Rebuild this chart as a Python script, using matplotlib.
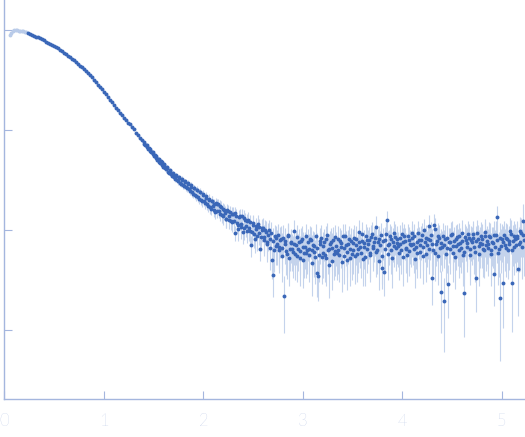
import matplotlib
matplotlib.use("Agg")
import matplotlib.pyplot as plt
import numpy as np
from matplotlib.ticker import FixedLocator, NullLocator

# ---------------- data ----------------
# excluded (light) points at lowest q
q_excluded = [0.055, 0.070, 0.085, 0.100, 0.115, 0.130, 0.145, 0.160, 0.175, 0.190, 0.205, 0.220]
log10_I_excluded = [-0.050, -0.030, -0.008, -0.004, -0.002, -0.004, -0.006, -0.008, -0.011, -0.014, -0.018, -0.022]
err_excluded = [0.030, 0.025, 0.020, 0.018, 0.015, 0.013, 0.012, 0.011, 0.010, 0.010, 0.009, 0.009]

# smooth part of the curve
q_smooth = [0.24, 0.26, 0.28, 0.30, 0.32, 0.34, 0.36, 0.38, 0.40, 0.42, 0.44, 0.46, 0.48, 0.50,
            0.52, 0.54, 0.56, 0.58, 0.60, 0.62, 0.64, 0.66, 0.68, 0.70, 0.72, 0.74, 0.76, 0.78,
            0.80, 0.82, 0.84, 0.86, 0.88, 0.90, 0.92, 0.94, 0.96, 0.98, 1.00, 1.02, 1.04, 1.06,
            1.08, 1.10, 1.12, 1.14, 1.16, 1.18, 1.20, 1.22, 1.24, 1.26, 1.28, 1.30, 1.32, 1.34,
            1.36, 1.38]
log10_I_smooth = [-0.035, -0.043, -0.050, -0.058, -0.066, -0.075, -0.085, -0.095, -0.105, -0.116,
                  -0.126, -0.137, -0.148, -0.160, -0.172, -0.185, -0.198, -0.212, -0.226, -0.241,
                  -0.256, -0.271, -0.287, -0.304, -0.321, -0.339, -0.357, -0.375, -0.394, -0.413,
                  -0.433, -0.454, -0.475, -0.501, -0.524, -0.547, -0.571, -0.595, -0.620, -0.645,
                  -0.671, -0.697, -0.724, -0.751, -0.778, -0.802, -0.831, -0.851, -0.880, -0.899,
                  -0.927, -0.945, -0.975, -0.993, -1.026, -1.049, -1.084, -1.102]
err_smooth = [0.006, 0.006, 0.006, 0.006, 0.006, 0.006, 0.006, 0.006, 0.006, 0.006, 0.006, 0.006, 0.006, 0.006,
              0.004, 0.004, 0.004, 0.004, 0.004, 0.004, 0.004, 0.004, 0.004, 0.004,
              0.004, 0.004, 0.004, 0.004, 0.004, 0.004, 0.004, 0.004, 0.004, 0.004,
              0.003, 0.003, 0.003, 0.003, 0.003, 0.003, 0.003, 0.003, 0.003, 0.003, 0.003, 0.003, 0.003, 0.003, 0.003,
              0.0022, 0.0022, 0.0022, 0.0022, 0.0022, 0.0022, 0.0022, 0.0022, 0.0022]

# noisy part of the curve, first set of points
q_noisy = [
    1.400, 1.415, 1.430, 1.445, 1.460, 1.475, 1.490, 1.505, 1.520, 1.535,
    1.550, 1.565, 1.580, 1.595, 1.610, 1.625, 1.640, 1.655, 1.670, 1.685,
    1.700, 1.715, 1.730, 1.745, 1.760, 1.775, 1.790, 1.805, 1.820, 1.835,
    1.850, 1.865, 1.880, 1.895, 1.910, 1.925, 1.940, 1.955, 1.970, 1.985,
    2.000, 2.015, 2.030, 2.045, 2.060, 2.075, 2.090, 2.105, 2.120, 2.135,
    2.150, 2.165, 2.180, 2.195, 2.210, 2.225, 2.240, 2.255, 2.270, 2.285,
    2.300, 2.315, 2.330, 2.345, 2.360, 2.375, 2.390, 2.405, 2.420, 2.435,
    2.450, 2.465, 2.480, 2.495, 2.510, 2.525, 2.540, 2.555, 2.570, 2.585,
    2.600, 2.615, 2.630, 2.645, 2.660, 2.675, 2.690, 2.705, 2.720, 2.735,
    2.750, 2.765, 2.780, 2.795, 2.810, 2.825, 2.840, 2.855, 2.870, 2.885,
    2.900, 2.915, 2.930, 2.945, 2.960, 2.975, 2.990, 3.005, 3.020, 3.035,
    3.050, 3.065, 3.080, 3.095, 3.110, 3.125, 3.140, 3.155, 3.170, 3.185,
    3.200, 3.215, 3.230, 3.245, 3.260, 3.275, 3.290, 3.305, 3.320, 3.335,
    3.350, 3.365, 3.380, 3.395, 3.410, 3.425, 3.440, 3.455, 3.470, 3.485,
    3.500, 3.515, 3.530, 3.545, 3.560, 3.575, 3.590, 3.605, 3.620, 3.635,
    3.650, 3.665, 3.680, 3.695, 3.710, 3.725, 3.740, 3.755, 3.770, 3.785,
    3.800, 3.815, 3.830, 3.845, 3.860, 3.875, 3.890, 3.905, 3.920, 3.935,
    3.950, 3.965, 3.980, 3.995, 4.010, 4.025, 4.040, 4.055, 4.070, 4.085,
    4.100, 4.115, 4.130, 4.145, 4.160, 4.175, 4.190, 4.205, 4.220, 4.235,
    4.250, 4.265, 4.280, 4.295, 4.310, 4.325, 4.340, 4.355, 4.370, 4.385,
    4.400, 4.415, 4.430, 4.445, 4.460, 4.475, 4.490, 4.505, 4.520, 4.535,
    4.550, 4.565, 4.580, 4.595, 4.610, 4.625, 4.640, 4.655, 4.670, 4.685,
    4.700, 4.715, 4.730, 4.745, 4.760, 4.775, 4.790, 4.805, 4.820, 4.835,
    4.850, 4.865, 4.880, 4.895, 4.910, 4.925, 4.940, 4.955, 4.970, 4.985,
    5.000, 5.015, 5.030, 5.045, 5.060, 5.075, 5.090, 5.105, 5.120, 5.135,
    5.150, 5.165, 5.180, 5.195, 5.210, 5.225]
log10_I_noisy = [
    -1.118, -1.150, -1.155, -1.190, -1.188, -1.225, -1.222, -1.262, -1.260, -1.298,
    -1.295, -1.335, -1.322, -1.372, -1.350, -1.395, -1.380, -1.432, -1.410, -1.460,
    -1.440, -1.495, -1.460, -1.515, -1.480, -1.545, -1.500, -1.560, -1.520, -1.585,
    -1.540, -1.610, -1.570, -1.640, -1.585, -1.665, -1.605, -1.690, -1.625, -1.715,
    -1.645, -1.730, -1.680, -1.760, -1.700, -1.790, -1.715, -1.745, -1.820, -1.745,
    -1.740, -1.840, -1.770, -1.865, -1.800, -1.890, -1.800, -1.905, -1.825, -1.925,
    -1.840, -2.030, -1.860, -1.950, -1.870, -1.975, -1.860, -1.985, -1.900, -2.010,
    -1.900, -2.010, -2.150, -1.935, -2.040, -1.960, -2.060, -1.975, -2.190, -2.000,
    -1.980, -2.100, -2.020, -2.140, -2.000, -2.090, -2.300, -2.450, -2.060, -2.160,
    -2.050, -2.200, -2.090, -2.180, -2.660, -2.110, -2.240, -2.060, -2.190, -2.130,
    -2.220, -2.010, -2.150, -2.260, -2.120, -2.210, -2.090, -2.300, -2.170, -2.230,
    -2.120, -2.250, -2.100, -2.200, -2.160, -2.270, -2.430, -2.460, -2.140, -2.080,
    -2.230, -2.120, -2.280, -2.050, -2.190, -2.140, -2.310, -2.100, -2.210, -2.160,
    -2.090, -2.250, -2.130, -2.320, -2.180, -2.060, -2.220, -2.140, -2.280, -2.110,
    -2.200, -2.080, -2.150, -2.240, -2.020, -2.170, -2.110, -2.290, -2.130, -2.060,
    -2.190, -2.100, -2.250, -2.040, -2.160, -2.080, -2.220, -2.120, -2.310, -2.050,
    -2.380, -2.420, -2.100, -1.900, -2.150, -2.060, -2.200, -2.120, -2.030, -2.180,
    -2.090, -2.230, -2.140, -2.040, -2.270, -2.110, -2.180, -2.060, -2.210, -2.150,
    -2.080, -2.190, -2.290, -2.120, -2.030, -2.220, -2.100, -2.170, -2.000, -2.240,
    -2.150, -1.960, -2.100, -2.480, -2.200, -1.990, -2.140, -2.260, -2.080, -2.620,
    -2.170, -2.710, -2.090, -2.180, -2.540, -2.120, -2.050, -2.230, -2.110, -2.160,
    -2.070, -2.200, -2.130, -2.030, -2.250, -2.630, -2.100, -2.170, -2.080, -2.190,
    -2.120, -2.040, -2.220, -2.480, -2.090, -2.160, -2.060, -2.140, -2.200, -2.020,
    -2.110, -2.180, -2.070, -2.240, -2.130, -2.440, -2.050, -1.870, -2.190, -2.680,
    -2.090, -2.530, -2.150, -2.080, -2.200, -2.110, -2.040, -2.530, -2.170, -2.090,
    -2.060, -2.390, -2.120, -2.030, -1.910, -2.100]
err_noisy = [
    0.0021, 0.0020, 0.0022, 0.0020, 0.0021, 0.0019, 0.0021, 0.0020, 0.0019, 0.0021,
    0.0020, 0.0019, 0.0021, 0.0020, 0.0019, 0.0020, 0.0021, 0.0019, 0.0020, 0.0019,
    0.0020, 0.0021, 0.0019, 0.0021, 0.0020, 0.0019, 0.0021, 0.0020, 0.0019, 0.0021,
    0.0021, 0.0022, 0.0020, 0.0021, 0.0022, 0.0020, 0.0021, 0.0022, 0.0020, 0.0021,
    0.0022, 0.0023, 0.0022, 0.0021, 0.0023, 0.0022, 0.0024, 0.0022, 0.0023, 0.0022,
    0.0023, 0.0022, 0.0024, 0.0023, 0.0022, 0.0024, 0.0023, 0.0022, 0.0024, 0.0023,
    0.0024, 0.0016, 0.0023, 0.0024, 0.0022, 0.0025, 0.0023, 0.0024, 0.0022, 0.0024,
    0.0024, 0.0025, 0.0017, 0.0024, 0.0025, 0.0023, 0.0025, 0.0024, 0.0016, 0.0025,
    0.0026, 0.0025, 0.0027, 0.0025, 0.0026, 0.0024, 0.0018, 0.0014, 0.0026, 0.0025,
    0.0027, 0.0026, 0.0028, 0.0027, 0.00126, 0.0027, 0.0025, 0.0028, 0.0026, 0.0027,
    0.0027, 0.0029, 0.0026, 0.0025, 0.0027, 0.0026, 0.0028, 0.0024, 0.0027, 0.0026,
    0.0027, 0.0026, 0.0028, 0.0027, 0.0026, 0.0025, 0.0016, 0.0015, 0.0027, 0.0028,
    0.0026, 0.0027, 0.0025, 0.0028, 0.0027, 0.0026, 0.0024, 0.0028, 0.0027, 0.0026,
    0.0028, 0.0026, 0.0027, 0.0024, 0.0027, 0.0028, 0.0026, 0.0027, 0.0025, 0.0028,
    0.0027, 0.0028, 0.0026, 0.0027, 0.0029, 0.0026, 0.0027, 0.0024, 0.0027, 0.0028,
    0.0027, 0.0028, 0.0026, 0.0029, 0.0027, 0.0028, 0.0026, 0.0027, 0.0024, 0.0029,
    0.0016, 0.0016, 0.0028, 0.0030, 0.0027, 0.0028, 0.0027, 0.0028, 0.0029, 0.0027,
    0.0028, 0.0027, 0.0028, 0.0029, 0.0026, 0.0028, 0.0027, 0.0029, 0.0027, 0.0028,
    0.0029, 0.0027, 0.0025, 0.0028, 0.0030, 0.0027, 0.0029, 0.0028, 0.0030, 0.0027,
    0.0028, 0.0031, 0.0029, 0.00153, 0.0028, 0.0030, 0.0029, 0.0027, 0.0029, 0.00147,
    0.0029, 0.00135, 0.0030, 0.0029, 0.00156, 0.0030, 0.0031, 0.0029, 0.0030, 0.0029,
    0.0031, 0.0030, 0.0031, 0.0032, 0.0029, 0.0015, 0.0031, 0.0030, 0.0032, 0.0030,
    0.0031, 0.0032, 0.0030, 0.0018, 0.0032, 0.0031, 0.0033, 0.0031, 0.0030, 0.0033,
    0.0032, 0.0031, 0.0033, 0.0030, 0.0032, 0.0019, 0.0033, 0.0037, 0.0031, 0.0016,
    0.0033, 0.0019, 0.0032, 0.0034, 0.0031, 0.0033, 0.0034, 0.0020, 0.0032, 0.0034,
    0.0035, 0.0027, 0.0037, 0.0040, 0.0060, 0.0045]

# noisy part of the curve, second (interleaved) set of points
q_noisy_b = [
    1.4075, 1.4225, 1.4375, 1.4525, 1.4675, 1.4825, 1.4975, 1.5125, 1.5275, 1.5425,
    1.5575, 1.5725, 1.5875, 1.6025, 1.6175, 1.6325, 1.6475, 1.6625, 1.6775, 1.6925,
    1.7075, 1.7225, 1.7375, 1.7525, 1.7675, 1.7825, 1.7975, 1.8125, 1.8275, 1.8425,
    1.8575, 1.8725, 1.8875, 1.9025, 1.9175, 1.9325, 1.9475, 1.9625, 1.9775, 1.9925,
    2.0075, 2.0225, 2.0375, 2.0525, 2.0675, 2.0825, 2.0975, 2.1125, 2.1275, 2.1425,
    2.1575, 2.1725, 2.1875, 2.2025, 2.2175, 2.2325, 2.2475, 2.2625, 2.2775, 2.2925,
    2.3075, 2.3225, 2.3375, 2.3525, 2.3675, 2.3825, 2.3975, 2.4125, 2.4275, 2.4425,
    2.4575, 2.4725, 2.4875, 2.5025, 2.5175, 2.5325, 2.5475, 2.5625, 2.5775, 2.5925,
    2.6075, 2.6225, 2.6375, 2.6525, 2.6675, 2.6825, 2.6975, 2.7125, 2.7275, 2.7425,
    2.7575, 2.7725, 2.7875, 2.8025, 2.8175, 2.8325, 2.8475, 2.8625, 2.8775, 2.8925,
    2.9075, 2.9225, 2.9375, 2.9525, 2.9675, 2.9825, 2.9975, 3.0125, 3.0275, 3.0425,
    3.0575, 3.0725, 3.0875, 3.1025, 3.1175, 3.1325, 3.1475, 3.1625, 3.1775, 3.1925,
    3.2075, 3.2225, 3.2375, 3.2525, 3.2675, 3.2825, 3.2975, 3.3125, 3.3275, 3.3425,
    3.3575, 3.3725, 3.3875, 3.4025, 3.4175, 3.4325, 3.4475, 3.4625, 3.4775, 3.4925,
    3.5075, 3.5225, 3.5375, 3.5525, 3.5675, 3.5825, 3.5975, 3.6125, 3.6275, 3.6425,
    3.6575, 3.6725, 3.6875, 3.7025, 3.7175, 3.7325, 3.7475, 3.7625, 3.7775, 3.7925,
    3.8075, 3.8225, 3.8375, 3.8525, 3.8675, 3.8825, 3.8975, 3.9125, 3.9275, 3.9425,
    3.9575, 3.9725, 3.9875, 4.0025, 4.0175, 4.0325, 4.0475, 4.0625, 4.0775, 4.0925,
    4.1075, 4.1225, 4.1375, 4.1525, 4.1675, 4.1825, 4.1975, 4.2125, 4.2275, 4.2425,
    4.2575, 4.2725, 4.2875, 4.3025, 4.3175, 4.3325, 4.3475, 4.3625, 4.3775, 4.3925,
    4.4075, 4.4225, 4.4375, 4.4525, 4.4675, 4.4825, 4.4975, 4.5125, 4.5275, 4.5425,
    4.5575, 4.5725, 4.5875, 4.6025, 4.6175, 4.6325, 4.6475, 4.6625, 4.6775, 4.6925,
    4.7075, 4.7225, 4.7375, 4.7525, 4.7675, 4.7825, 4.7975, 4.8125, 4.8275, 4.8425,
    4.8575, 4.8725, 4.8875, 4.9025, 4.9175, 4.9325, 4.9475, 4.9625, 4.9775, 4.9925,
    5.0075, 5.0225, 5.0375, 5.0525, 5.0675, 5.0825, 5.0975, 5.1125, 5.1275, 5.1425,
    5.1575, 5.1725, 5.1875, 5.2025, 5.2175]
log10_I_noisy_b = [
    -1.140, -1.148, -1.175, -1.180, -1.210, -1.218, -1.245, -1.250, -1.283, -1.290,
    -1.318, -1.310, -1.350, -1.345, -1.385, -1.368, -1.418, -1.402, -1.445, -1.432,
    -1.475, -1.450, -1.505, -1.470, -1.530, -1.490, -1.555, -1.515, -1.575, -1.535,
    -1.590, -1.555, -1.625, -1.580, -1.650, -1.600, -1.675, -1.620, -1.700, -1.650,
    -1.710, -1.660, -1.745, -1.690, -1.775, -1.710, -1.760, -1.800, -1.730, -1.815,
    -1.815, -1.760, -1.850, -1.790, -1.830, -1.895, -1.815, -1.860, -1.910, -1.840,
    -1.915, -1.835, -1.935, -1.990, -1.860, -1.940, -2.020, -1.880, -1.965, -1.915,
    -1.985, -1.925, -2.020, -1.950, -2.090, -1.990, -1.940, -2.030, -2.070, -1.980,
    -2.070, -2.000, -2.120, -2.050, -2.180, -2.030, -2.110, -2.200, -2.080, -2.140,
    -2.170, -2.100, -2.260, -2.080, -2.140, -2.210, -2.050, -2.280, -2.120, -2.190,
    -2.140, -2.240, -2.070, -2.190, -2.280, -2.110, -2.170, -2.230, -2.060, -2.200,
    -2.190, -2.090, -2.330, -2.150, -2.220, -2.060, -2.180, -2.250, -2.110, -2.270,
    -2.160, -2.250, -2.090, -2.200, -2.350, -2.120, -2.180, -2.240, -2.070, -2.230,
    -2.200, -2.110, -2.170, -2.060, -2.260, -2.150, -2.300, -2.090, -2.190, -2.240,
    -2.130, -2.260, -2.090, -2.190, -2.120, -2.230, -2.040, -2.170, -2.270, -2.100,
    -2.140, -2.230, -2.070, -2.180, -2.120, -1.970, -2.200, -2.090, -2.150, -2.260,
    -2.110, -2.190, -2.040, -2.240, -2.140, -2.090, -2.280, -2.160, -2.070, -2.130,
    -2.160, -2.080, -2.200, -2.120, -2.060, -2.190, -2.250, -2.100, -2.140, -2.030,
    -2.140, -2.060, -2.170, -2.230, -2.100, -2.150, -2.050, -2.260, -2.120, -2.080,
    -2.090, -2.190, -2.050, -2.140, -1.950, -2.230, -2.110, -2.060, -2.180, -2.130,
    -2.060, -2.150, -2.240, -2.080, -2.120, -2.190, -2.040, -2.160, -2.270, -2.090,
    -2.140, -2.060, -2.180, -2.110, -2.220, -2.070, -2.130, -2.040, -2.250, -2.100,
    -2.080, -2.170, -2.110, -2.030, -2.240, -2.130, -2.090, -2.190, -2.060, -2.150,
    -2.140, -2.060, -2.200, -2.120, -2.050, -2.170, -2.100, -2.230, -2.080, -2.160,
    -2.120, -2.050, -2.180, -2.090, -2.140, -2.010, -2.200, -2.110, -2.060, -2.150,
    -2.080, -2.140, -2.010, -2.170, -2.050]
err_noisy_b = [
    0.0020, 0.0021, 0.0019, 0.0020, 0.0021, 0.0020, 0.0019, 0.0021, 0.0020, 0.0019,
    0.0020, 0.0019, 0.0021, 0.0020, 0.0019, 0.0021, 0.0020, 0.0019, 0.0020, 0.0021,
    0.0020, 0.0021, 0.0020, 0.0019, 0.0021, 0.0020, 0.0021, 0.0019, 0.0020, 0.0021,
    0.0021, 0.0020, 0.0022, 0.0021, 0.0020, 0.0022, 0.0021, 0.0022, 0.0020, 0.0021,
    0.0023, 0.0022, 0.0023, 0.0024, 0.0022, 0.0023, 0.0022, 0.0024, 0.0023, 0.0022,
    0.0022, 0.0024, 0.0023, 0.0022, 0.0024, 0.0023, 0.0024, 0.0022, 0.0023, 0.0024,
    0.0023, 0.0024, 0.0022, 0.0025, 0.0023, 0.0024, 0.0023, 0.0025, 0.0024, 0.0023,
    0.0025, 0.0023, 0.0024, 0.0025, 0.0023, 0.0024, 0.0025, 0.0023, 0.0024, 0.0025,
    0.0026, 0.0027, 0.0025, 0.0028, 0.0026, 0.0027, 0.0026, 0.0025, 0.0027, 0.0028,
    0.0026, 0.0027, 0.0025, 0.0028, 0.0027, 0.0026, 0.0028, 0.0025, 0.0027, 0.0026,
    0.0028, 0.0026, 0.0027, 0.0026, 0.0025, 0.0028, 0.0027, 0.0026, 0.0028, 0.0027,
    0.0026, 0.0028, 0.0025, 0.0027, 0.0026, 0.0028, 0.0027, 0.0026, 0.0028, 0.0025,
    0.0027, 0.0026, 0.0028, 0.0027, 0.0024, 0.0028, 0.0027, 0.0026, 0.0028, 0.0027,
    0.0027, 0.0028, 0.0026, 0.0028, 0.0026, 0.0027, 0.0025, 0.0028, 0.0027, 0.0026,
    0.0028, 0.0026, 0.0028, 0.0027, 0.0028, 0.0026, 0.0029, 0.0027, 0.0026, 0.0028,
    0.0027, 0.0026, 0.0028, 0.0027, 0.0028, 0.0030, 0.0027, 0.0028, 0.0027, 0.0026,
    0.0028, 0.0027, 0.0029, 0.0026, 0.0028, 0.0029, 0.0026, 0.0027, 0.0029, 0.0028,
    0.0027, 0.0029, 0.0027, 0.0028, 0.0029, 0.0027, 0.0026, 0.0028, 0.0027, 0.0029,
    0.0028, 0.0029, 0.0027, 0.0026, 0.0028, 0.0027, 0.0029, 0.0026, 0.0028, 0.0029,
    0.0030, 0.0028, 0.0030, 0.0029, 0.0031, 0.0028, 0.0029, 0.0030, 0.0028, 0.0029,
    0.0030, 0.0029, 0.0028, 0.0030, 0.0029, 0.0028, 0.0031, 0.0029, 0.0028, 0.0030,
    0.0029, 0.0031, 0.0029, 0.0030, 0.0028, 0.0031, 0.0030, 0.0031, 0.0028, 0.0030,
    0.0032, 0.0031, 0.0032, 0.0033, 0.0030, 0.0032, 0.0033, 0.0031, 0.0033, 0.0032,
    0.0031, 0.0033, 0.0031, 0.0032, 0.0034, 0.0032, 0.0033, 0.0031, 0.0033, 0.0032,
    0.0033, 0.0034, 0.0032, 0.0034, 0.0033, 0.0035, 0.0032, 0.0034, 0.0035, 0.0033,
    0.0035, 0.0034, 0.0037, 0.0035, 0.0036]

x_ticks = [0, 1, 2, 3, 4, 5]
y_ticks = [1e-3, 1e-2, 1e-1, 1e0]

# ---------------- styling ----------------
AXIS_COLOR = "#a4b6de"
DARK = "#3a67b8"
LIGHT_PT = "#b9cbe9"
BAR = "#c4d3ec"

W, H = 525, 437
fig = plt.figure(figsize=(W / 100, H / 100), dpi=100)
left_px, bottom_px = 4.3, 38
ax = fig.add_axes([left_px / W, bottom_px / H, 1 - left_px / W, 1 - bottom_px / H])

q_main = np.array(q_smooth + q_noisy + q_noisy_b)
I_main = 10 ** np.array(log10_I_smooth + log10_I_noisy + log10_I_noisy_b)
e_main = np.array(err_smooth + err_noisy + err_noisy_b)
q_ex = np.array(q_excluded)
I_ex = 10 ** np.array(log10_I_excluded)
e_ex = np.array(err_excluded)

ax.set_yscale("log")
ax.errorbar(q_ex, I_ex, yerr=e_ex, fmt="none", ecolor=BAR, elinewidth=0.8, capsize=0, zorder=1)
ax.errorbar(q_main, I_main, yerr=e_main, fmt="none", ecolor=BAR, elinewidth=0.8, capsize=0, zorder=1)
ax.plot(q_ex, I_ex, "o", ms=2.8, color=LIGHT_PT, mec="none", zorder=2)
ax.plot(q_main, I_main, "o", ms=2.8, color=DARK, mec="none", zorder=3)

ax.set_xlim(0, (W - left_px) / 99.5)
ax.set_ylim(10 ** -3.69, 10 ** 0.30)

for s in ["top", "right"]:
    ax.spines[s].set_visible(False)
for s in ["left", "bottom"]:
    ax.spines[s].set_color(AXIS_COLOR)
    ax.spines[s].set_linewidth(1.0)

ax.set_xticks(x_ticks)
ax.set_xticklabels([str(t) for t in x_ticks])
ax.yaxis.set_major_locator(FixedLocator(y_ticks))
ax.yaxis.set_minor_locator(NullLocator())
ax.xaxis.set_minor_locator(NullLocator())
ax.tick_params(axis="both", direction="in", length=6, width=0.8, color=AXIS_COLOR,
               labelcolor=AXIS_COLOR)
ax.tick_params(axis="y", labelleft=False)
ax.tick_params(axis="x", pad=10, labelsize=12)
for lab in ax.get_xticklabels():
    lab.set_family(["Lato", "DejaVu Sans"])
    lab.set_fontweight("light")
ax.set_facecolor("none")
fig.patch.set_facecolor("white")

fig.savefig("out.png", dpi=100)
